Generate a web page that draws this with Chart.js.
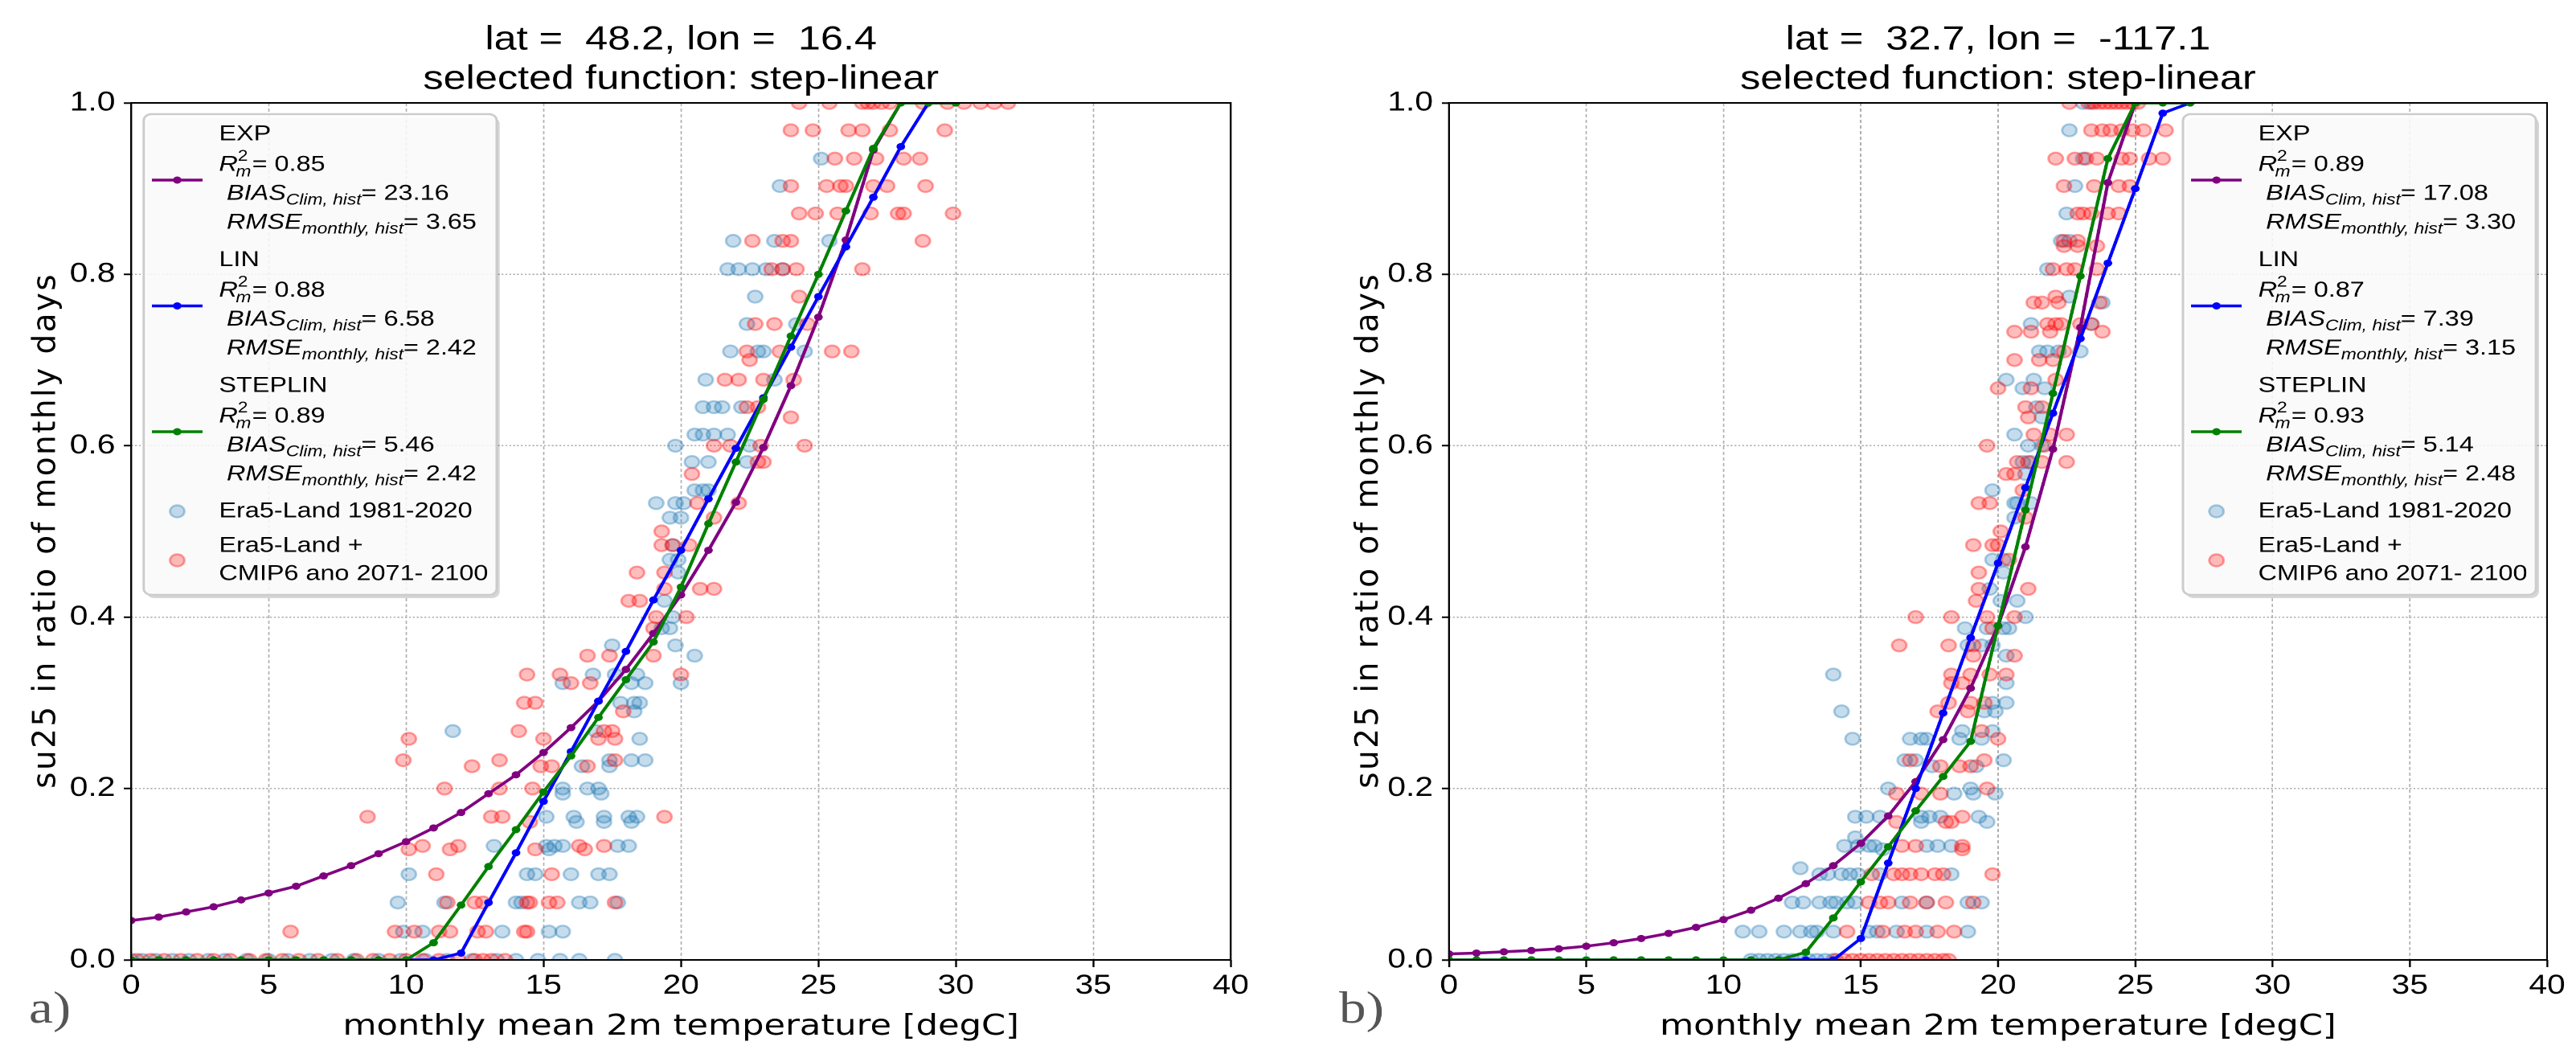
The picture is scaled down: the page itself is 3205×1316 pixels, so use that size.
<!DOCTYPE html>
<html>
<head>
<meta charset="utf-8">
<script src="https://cdn.jsdelivr.net/npm/chart.js@4/dist/chart.umd.min.js"></script>
<style>
  html, body { margin: 0; padding: 0; background: #fff; }
  body { width: 3205px; height: 1316px; position: relative; overflow: hidden; }
  .panel { position: absolute; top: 0; height: 1316px; transform: scaleX(1.2); transform-origin: 0 0; }
  .panel canvas { display: block; }
</style>
</head>
<body>
<div class="panel" style="left:0;width:1334px"><canvas id="chartA" width="1334" height="1316"></canvas></div>
<div class="panel" style="left:1600px;width:1338px"><canvas id="chartB" width="1338" height="1316"></canvas></div>

<script>
// shared texts
const xLabel = 'monthly mean 2m temperature [degC]';
const yLabel = 'su25 in ratio of monthly days';
const histLabel = 'Era5-Land 1981-2020';
const anoLabel = ['Era5-Land +', 'CMIP6 ano 2071- 2100'];
const fitNames = ['EXP', 'LIN', 'STEPLIN'];
const xTicks = [0, 5, 10, 15, 20, 25, 30, 35, 40];
const yTicks = [0.0, 0.2, 0.4, 0.6, 0.8, 1.0];

// ---- a) lat 48.2, lon 16.4
const titleA = ['lat =  48.2, lon =  16.4', 'selected function: step-linear'];
const tempA = [0, 1, 2, 3, 4, 5, 6, 7, 8, 9, 10, 11, 12, 13, 14, 15, 16, 17, 18, 19, 20, 21, 22, 23, 24, 25, 26, 27, 28, 29, 30];
const expA  = [0.046, 0.050, 0.056, 0.062, 0.070, 0.078, 0.086, 0.098, 0.110, 0.124, 0.138, 0.154, 0.172, 0.194, 0.216, 0.242, 0.271, 0.302, 0.339, 0.381, 0.426, 0.478, 0.534, 0.598, 0.670, 0.750, 0.840, 0.945, 1.0, 1.0, 1.0];
const linA  = [0, 0, 0, 0, 0, 0, 0, 0, 0, 0, 0, 0, 0.008, 0.067, 0.125, 0.185, 0.243, 0.302, 0.360, 0.420, 0.478, 0.538, 0.597, 0.656, 0.715, 0.774, 0.832, 0.890, 0.949, 1.0, 1.0];
const stepA = [0, 0, 0, 0, 0, 0, 0, 0, 0, 0, 0, 0.020, 0.064, 0.109, 0.152, 0.196, 0.238, 0.283, 0.327, 0.371, 0.435, 0.509, 0.581, 0.654, 0.728, 0.800, 0.874, 0.947, 1.0, 1.0, 1.0];
const r2A   = ['0.85', '0.88', '0.89'];
const biasA = ['23.16', '6.58', '5.46'];
const rmseA = ['3.65', '2.42', '2.42'];
// rows: [ratio, [temperatures]]
const era5A = [
  [0.935, [25.1]],
  [0.903, [23.6]],
  [0.839, [21.9, 23.4, 25.4]],
  [0.806, [21.7, 22.1, 22.6, 23.1, 23.7]],
  [0.774, [22.7]],
  [0.742, [22.4, 24.2]],
  [0.710, [21.8, 22.8, 23.0, 24.5]],
  [0.677, [20.9, 23.4]],
  [0.645, [20.8, 21.2, 21.5, 22.2]],
  [0.613, [20.5, 20.8, 21.2, 21.7]],
  [0.600, [19.8, 22.5]],
  [0.581, [20.4, 21.0, 22.4]],
  [0.548, [20.5, 20.8, 21.0]],
  [0.533, [19.1, 19.8, 20.1]],
  [0.516, [19.6, 20.0]],
  [0.484, [19.7]],
  [0.467, [19.6, 19.9]],
  [0.452, [19.9]],
  [0.419, [19.4]],
  [0.400, [19.7]],
  [0.387, [19.3, 19.6]],
  [0.367, [17.5, 19.8]],
  [0.355, [20.5]],
  [0.333, [16.8, 17.6, 18.4]],
  [0.323, [15.7, 18.2, 18.7, 20.0]],
  [0.300, [17.8, 18.3, 18.5]],
  [0.290, [18.3]],
  [0.267, [11.7, 16.9]],
  [0.258, [18.5]],
  [0.233, [17.4, 18.2, 18.7]],
  [0.226, [16.4, 17.4]],
  [0.200, [15.7, 16.6, 17.0]],
  [0.194, [15.7, 17.1]],
  [0.167, [15.1, 16.1, 17.2, 18.1, 18.4]],
  [0.161, [16.2, 17.2, 18.2]],
  [0.133, [13.2, 15.1, 15.4, 15.7, 17.7, 18.1]],
  [0.129, [15.2]],
  [0.100, [10.1, 14.4, 14.7, 16.0, 17.0, 17.4]],
  [0.067, [9.7, 11.4, 14.0, 14.2, 16.3, 16.7, 17.7]],
  [0.033, [9.9, 10.6, 13.5, 15.2, 15.7]],
  [0.000, [0.0, 0.4, 0.9, 1.5, 2.1, 2.8, 3.4, 4.2, 5.0, 5.7, 6.5, 7.3, 8.1, 9.0, 9.8, 10.7, 11.5, 12.4, 13.3, 14.0, 14.8, 15.6, 16.3, 17.6]]
];
const anoA = [
  [1.000, [24.3, 25.4, 26.6, 26.8, 27.0, 27.3, 27.6, 28.8, 29.7, 30.3, 30.9, 31.4, 31.9]],
  [0.968, [24.0, 24.8, 26.1, 26.6, 27.6, 29.6]],
  [0.935, [25.6, 26.3, 27.1, 28.1, 28.7]],
  [0.903, [24.0, 25.3, 25.8, 26.0, 27.0, 27.5, 28.9]],
  [0.871, [24.3, 24.9, 25.7, 26.9, 27.9, 28.1, 29.9]],
  [0.839, [22.6, 23.7, 24.0, 28.8]],
  [0.806, [23.3, 23.7, 24.2, 26.6]],
  [0.774, [24.3]],
  [0.742, [22.7, 23.4, 24.6]],
  [0.710, [22.4, 23.6, 25.5, 26.2]],
  [0.700, [22.5]],
  [0.677, [21.6, 22.1, 23.0, 24.1]],
  [0.645, [22.4, 22.8]],
  [0.633, [24.0]],
  [0.600, [21.2, 21.8, 22.9, 24.5]],
  [0.581, [22.8, 23.0]],
  [0.567, [20.4]],
  [0.533, [20.6, 22.1]],
  [0.516, [21.2]],
  [0.500, [19.3]],
  [0.484, [19.3, 19.7, 20.3]],
  [0.452, [18.4, 19.4]],
  [0.433, [19.4, 20.7, 21.2]],
  [0.419, [18.1, 18.5]],
  [0.400, [19.1, 20.2]],
  [0.387, [19.0]],
  [0.355, [16.6, 17.4, 19.0]],
  [0.333, [14.4, 15.6, 20.0]],
  [0.323, [16.0, 16.7]],
  [0.300, [14.3, 14.7]],
  [0.290, [17.9]],
  [0.267, [14.1, 17.2, 17.5]],
  [0.258, [10.1, 15.0, 17.0, 17.6]],
  [0.233, [9.9, 13.4, 17.6]],
  [0.226, [12.4, 14.9, 15.3, 16.6]],
  [0.200, [11.4, 13.4, 14.6]],
  [0.167, [8.6, 13.1, 13.5, 19.4]],
  [0.161, [14.5]],
  [0.133, [10.6, 11.9, 16.3, 17.2]],
  [0.129, [10.1, 11.6, 14.7, 16.5]],
  [0.100, [11.1, 15.3]],
  [0.067, [11.5, 12.5, 12.8, 14.4, 14.5, 15.2, 15.5, 17.6]],
  [0.033, [5.8, 9.6, 10.3, 11.2, 11.6, 12.6, 12.9, 14.3, 14.4]],
  [0.000, [0.2, 0.7, 1.2, 1.8, 2.4, 3.0, 3.6, 4.3, 4.9, 5.5, 6.1, 6.8, 7.5, 8.2, 8.8, 9.4, 10.0, 10.6, 11.2, 11.9, 12.5, 12.8, 13.1, 13.6]]
];

// ---- b) lat 32.7, lon -117.1
const titleB = ['lat =  32.7, lon =  -117.1', 'selected function: step-linear'];
const tempB = [0, 1, 2, 3, 4, 5, 6, 7, 8, 9, 10, 11, 12, 13, 14, 15, 16, 17, 18, 19, 20, 21, 22, 23, 24, 25, 26, 27];
const expB  = [0.007, 0.008, 0.0095, 0.011, 0.013, 0.016, 0.020, 0.025, 0.031, 0.038, 0.047, 0.058, 0.072, 0.089, 0.110, 0.136, 0.168, 0.208, 0.257, 0.317, 0.390, 0.482, 0.596, 0.738, 0.907, 1.0, 1.0, 1.0];
const linB  = [0, 0, 0, 0, 0, 0, 0, 0, 0, 0, 0, 0, 0, 0, 0, 0.025, 0.113, 0.200, 0.288, 0.376, 0.463, 0.551, 0.638, 0.725, 0.813, 0.900, 0.988, 1.0];
const stepB = [0, 0, 0, 0, 0, 0, 0, 0, 0, 0, 0, 0, 0, 0.009, 0.049, 0.091, 0.132, 0.174, 0.214, 0.255, 0.390, 0.525, 0.661, 0.798, 0.935, 1.0, 1.0, 1.0];
const r2B   = ['0.89', '0.87', '0.93'];
const biasB = ['17.08', '7.39', '5.14'];
const rmseB = ['3.30', '3.15', '2.48'];
const era5B = [
  [1.000, [23.1, 23.4]],
  [0.968, [22.6]],
  [0.935, [23.1]],
  [0.903, [22.8]],
  [0.871, [22.5]],
  [0.839, [22.3, 22.6]],
  [0.806, [21.8]],
  [0.774, [22.6]],
  [0.767, [23.8]],
  [0.742, [21.2, 23.4]],
  [0.710, [21.5, 21.8, 22.2, 23.0]],
  [0.677, [20.3, 21.3]],
  [0.667, [20.9, 21.7]],
  [0.645, [21.4]],
  [0.633, [21.6]],
  [0.613, [20.6]],
  [0.600, [21.1, 21.6]],
  [0.581, [20.9, 21.2]],
  [0.567, [21.0]],
  [0.548, [19.8]],
  [0.533, [20.6, 20.7, 21.2]],
  [0.516, [20.6]],
  [0.467, [19.8, 20.2]],
  [0.452, [20.2]],
  [0.433, [19.7]],
  [0.419, [20.1, 20.7]],
  [0.400, [21.0]],
  [0.387, [18.8, 19.6, 20.2, 20.4]],
  [0.367, [18.9, 19.4, 19.8]],
  [0.355, [20.3]],
  [0.333, [14.0]],
  [0.323, [20.3]],
  [0.300, [19.8, 20.3]],
  [0.290, [14.3, 19.5, 19.9]],
  [0.267, [18.7, 19.8]],
  [0.258, [14.7, 16.8, 17.2, 17.4, 18.6, 19.4]],
  [0.233, [16.6, 17.0, 20.2]],
  [0.226, [17.6, 19.2]],
  [0.200, [16.0, 19.0]],
  [0.194, [18.4, 19.1, 19.9]],
  [0.167, [14.8, 15.2, 15.7, 17.2, 17.5, 17.9, 19.3]],
  [0.161, [17.2, 19.6]],
  [0.143, [14.8]],
  [0.133, [14.4, 14.9, 15.3, 15.5, 17.4, 17.8, 18.3]],
  [0.129, [15.8]],
  [0.107, [12.8]],
  [0.100, [13.5, 13.8, 14.3, 14.6, 14.9, 15.7, 18.3]],
  [0.067, [12.5, 12.9, 13.5, 13.9, 14.1, 14.5, 14.8, 16.5, 17.4, 18.9, 19.4]],
  [0.033, [10.7, 11.3, 12.2, 12.8, 13.2, 13.4, 14.0, 15.3, 15.6, 16.3, 17.4, 18.9]],
  [0.000, [11.0, 11.3, 11.6, 11.9, 12.2, 12.5, 12.8, 13.1, 13.4, 13.7, 14.0]]
];
const anoB = [
  [1.000, [22.6, 23.3, 23.5, 23.7, 23.9, 24.1, 24.3, 24.5, 24.7, 24.9, 25.1]],
  [0.968, [23.4, 23.8, 24.1, 24.5, 24.9, 25.3, 26.1]],
  [0.935, [22.1, 22.8, 23.2, 23.6, 24.5, 24.8, 25.5, 26.0]],
  [0.903, [22.4, 23.5, 24.4, 24.8]],
  [0.871, [22.9, 23.1, 23.4, 24.0, 24.4]],
  [0.839, [22.4, 22.9]],
  [0.833, [22.4, 22.9, 23.6]],
  [0.806, [22.0, 22.5, 22.8, 23.6]],
  [0.774, [22.1]],
  [0.767, [21.3, 21.6, 22.2, 23.7]],
  [0.742, [21.8, 22.1, 22.3, 23.0, 23.4]],
  [0.733, [20.6, 21.2, 21.9, 23.8]],
  [0.710, [22.4]],
  [0.700, [20.6, 21.5, 22.0]],
  [0.677, [22.1]],
  [0.667, [20.0, 21.2]],
  [0.645, [21.0, 21.6]],
  [0.633, [21.1]],
  [0.613, [21.3, 21.9, 22.5]],
  [0.600, [19.6, 21.7]],
  [0.581, [20.7, 21.1, 21.6, 22.5]],
  [0.567, [20.3, 20.6]],
  [0.548, [20.9]],
  [0.533, [19.3, 19.7]],
  [0.516, [21.0]],
  [0.500, [20.1]],
  [0.484, [19.1, 19.8, 20.0]],
  [0.467, [20.4]],
  [0.452, [19.3]],
  [0.433, [19.3, 21.1]],
  [0.419, [19.2]],
  [0.400, [17.0, 18.3, 19.6, 20.6]],
  [0.387, [19.8]],
  [0.367, [16.4, 18.2, 19.1]],
  [0.355, [19.1, 20.6]],
  [0.333, [18.3, 19.0, 19.7, 20.3]],
  [0.323, [18.3, 18.7]],
  [0.300, [18.2, 19.0, 19.5]],
  [0.290, [17.8, 18.9]],
  [0.267, [19.4]],
  [0.258, [20.0]],
  [0.233, [16.8, 19.5]],
  [0.226, [17.9, 18.6, 19.0]],
  [0.200, [19.6]],
  [0.194, [16.3, 17.2, 17.9]],
  [0.167, [18.7]],
  [0.161, [16.3, 18.1, 18.3]],
  [0.133, [16.5, 17.0, 18.7]],
  [0.129, [18.7]],
  [0.100, [15.4, 16.2, 16.5, 16.8, 17.2, 17.7, 18.0, 19.8]],
  [0.067, [15.3, 15.7, 16.0, 16.8, 17.4, 18.1, 19.1]],
  [0.033, [14.5, 15.8, 16.6, 17.0, 17.8, 18.4]],
  [0.000, [14.1, 14.4, 14.7, 15.0, 15.3, 15.6, 15.9, 16.2, 16.5, 16.8, 17.1, 17.4, 17.7, 18.0, 18.2]]
];

const fitColors = ['#800080', '#0000ff', '#008000'];
const HIST_RGB = '31,119,180';
const ANO_RGB = '255,0,0';
const LEG_FONT = '"Liberation Sans"';
const STRETCH = 1.2;   // panels are widened by CSS scaleX

Chart.defaults.font.family = 'Liberation Sans';

function lineSet(label, xs, ys, color) {
  return {
    label: label,
    data: xs.map((x, i) => ({ x: x, y: ys[i] })),
    showLine: true,
    borderColor: color,
    backgroundColor: color,
    borderWidth: 3.5,
    pointRadius: 4.5,
    pointHoverRadius: 4.5,
    pointBackgroundColor: color,
    pointBorderColor: color,
    pointBorderWidth: 0,
    tension: 0,
    clip: 0
  };
}

function dotSet(label, rows, rgb) {
  return {
    label: label,
    data: rows.flatMap(([y, xs]) => xs.map(x => ({ x: x, y: y }))),
    showLine: false,
    pointRadius: 7.5,
    pointHoverRadius: 7.5,
    pointBackgroundColor: 'rgba(' + rgb + ',0.26)',
    pointBorderColor: 'rgba(' + rgb + ',0.36)',
    pointBorderWidth: 2.4,
    clip: 0
  };
}

function roundRect(ctx, x, y, w, h, r) {
  ctx.beginPath();
  ctx.moveTo(x + r, y);
  ctx.arcTo(x + w, y, x + w, y + h, r);
  ctx.arcTo(x + w, y + h, x, y + h, r);
  ctx.arcTo(x, y + h, x, y, r);
  ctx.arcTo(x, y, x + w, y, r);
  ctx.closePath();
}

// text with extra space between letters, centred on cx
function spacedText(ctx, text, cx, cy, spacing) {
  const chars = Array.from(text);
  const widths = chars.map(ch => ctx.measureText(ch).width);
  const total = widths.reduce((s, w) => s + w, 0) + spacing * (chars.length - 1);
  let x = cx - total / 2;
  ctx.textAlign = 'left';
  chars.forEach((ch, i) => { ctx.fillText(ch, x, cy); x += widths[i] + spacing; });
}

// "R" + sup 2 + sub m, then "= value"
function drawR2(ctx, x, y, val) {
  ctx.font = 'italic 27px ' + LEG_FONT;
  ctx.fillText('R', x, y);
  let w = ctx.measureText('R').width;
  ctx.font = '19px ' + LEG_FONT;
  ctx.fillText('2', x + w, y - 10);
  const w2 = ctx.measureText('2').width;
  ctx.font = 'italic 19px ' + LEG_FONT;
  ctx.fillText('m', x + w - 2, y + 9);
  const wm = ctx.measureText('m').width - 2;
  w += Math.max(w2, wm) + 1;
  ctx.font = '27px ' + LEG_FONT;
  ctx.fillText('= ' + val, x + w, y);
}

function drawStat(ctx, x, y, main, sub, val) {
  ctx.font = 'italic 27px ' + LEG_FONT;
  ctx.fillText(main, x, y);
  let w = ctx.measureText(main).width;
  ctx.font = 'italic 19px ' + LEG_FONT;
  ctx.fillText(sub, x + w, y + 8);
  w += ctx.measureText(sub).width;
  ctx.font = '27px ' + LEG_FONT;
  ctx.fillText('= ' + val, x + w, y);
}

function drawLegend(ctx, p) {
  const bx = p.legX, by = 142, bw = 366, bh = 598;
  ctx.save();
  ctx.fillStyle = 'rgba(0,0,0,0.16)';
  roundRect(ctx, bx + 3, by + 4, bw, bh, 8);
  ctx.fill();
  ctx.fillStyle = 'rgba(255,255,255,0.86)';
  roundRect(ctx, bx, by, bw, bh, 8);
  ctx.fill();
  ctx.strokeStyle = '#cccccc';
  ctx.lineWidth = 2.5;
  ctx.stroke();

  const tx = bx + 78, lx0 = bx + 8.5, lx1 = bx + 61, mx = (lx0 + lx1) / 2;
  const blockY = [167, 323.5, 480];
  ctx.textAlign = 'left';
  ctx.textBaseline = 'middle';
  for (let i = 0; i < 3; i++) {
    const y0 = blockY[i];
    const ly = y0 + 57;
    ctx.strokeStyle = fitColors[i];
    ctx.lineWidth = 3.5;
    ctx.beginPath(); ctx.moveTo(lx0, ly); ctx.lineTo(lx1, ly); ctx.stroke();
    ctx.fillStyle = fitColors[i];
    ctx.beginPath(); ctx.arc(mx, ly, 4.5, 0, Math.PI * 2); ctx.fill();

    ctx.fillStyle = '#000';
    ctx.font = '27px ' + LEG_FONT;
    ctx.fillText(fitNames[i], tx, y0);
    drawR2(ctx, tx, y0 + 38, p.r2[i]);
    drawStat(ctx, tx + 8, y0 + 74, 'BIAS', 'Clim, hist', p.bias[i]);
    drawStat(ctx, tx + 8, y0 + 110, 'RMSE', 'monthly, hist', p.rmse[i]);
  }
  // scatter entries
  const dot = (y, rgb) => {
    ctx.beginPath(); ctx.arc(mx, y, 7.5, 0, Math.PI * 2);
    ctx.fillStyle = 'rgba(' + rgb + ',0.26)'; ctx.fill();
    ctx.strokeStyle = 'rgba(' + rgb + ',0.36)'; ctx.lineWidth = 2.4; ctx.stroke();
  };
  dot(636, HIST_RGB);
  dot(697, ANO_RGB);
  ctx.fillStyle = '#000';
  ctx.font = '27px ' + LEG_FONT;
  ctx.fillText(histLabel, tx, 636);
  ctx.fillText(anoLabel[0], tx, 679);
  ctx.fillText(anoLabel[1], tx, 714);
  ctx.restore();
}

function panelPlugin(p) {
  return {
    id: 'panelDecor',
    afterDatasetsDraw(chart) {
      const { ctx, chartArea: a } = chart;
      ctx.save();
      ctx.strokeStyle = '#000';
      ctx.lineWidth = 2;
      ctx.strokeRect(a.left, a.top, a.right - a.left, a.bottom - a.top);
      ctx.restore();
    },
    afterDraw(chart) {
      const { ctx, chartArea: a } = chart;
      ctx.save();
      ctx.fillStyle = '#000';
      ctx.textAlign = 'center';
      ctx.textBaseline = 'middle';
      ctx.font = '42px ' + LEG_FONT;
      const cx = (a.left + a.right) / 2;
      ctx.fillText(p.title[0], cx, 50);
      ctx.fillText(p.title[1], cx, 99);

      // y label is drawn unstretched
      ctx.save();
      ctx.scale(1 / STRETCH, 1);
      ctx.translate(p.yLabelX, (a.top + a.bottom) / 2);
      ctx.rotate(-Math.PI / 2);
      ctx.font = '39px "DejaVu Sans"';
      spacedText(ctx, yLabel, 0, 0, 2.4);
      ctx.restore();

      ctx.font = '56px "Liberation Serif"';
      ctx.fillStyle = '#555555';
      ctx.textAlign = 'left';
      ctx.textBaseline = 'alphabetic';
      ctx.fillText(p.letter, p.letterX, 1272);

      drawLegend(ctx, p);
      ctx.restore();
    }
  };
}

function makeChart(id, p) {
  const tickFont = { family: 'Liberation Sans', size: 34 };
  const gridX = { color: '#b0b0b0', lineWidth: 1.5, tickLength: 9, tickColor: '#000', tickWidth: 2, tickBorderDash: [] };
  const gridY = { color: '#b0b0b0', lineWidth: 1.5, tickLength: 7.5, tickColor: '#000', tickWidth: 2, tickBorderDash: [] };
  return new Chart(document.getElementById(id), {
    type: 'scatter',
    data: {
      datasets: [
        lineSet(fitNames[2], p.temp, p.step, fitColors[2]),
        lineSet(fitNames[1], p.temp, p.lin, fitColors[1]),
        lineSet(fitNames[0], p.temp, p.exp, fitColors[0]),
        dotSet(anoLabel.join(' '), p.ano, ANO_RGB),
        dotSet(histLabel, p.hist, HIST_RGB)
      ]
    },
    options: {
      responsive: false,
      animation: false,
      devicePixelRatio: 2,
      events: [],
      layout: { padding: { top: 128, right: p.padRight, left: 0, bottom: 0 } },
      plugins: { legend: { display: false }, tooltip: { enabled: false } },
      scales: {
        x: {
          type: 'linear', min: xTicks[0], max: xTicks[xTicks.length - 1],
          afterBuildTicks: s => { s.ticks = xTicks.map(v => ({ value: v })); },
          ticks: { color: '#000', font: tickFont, padding: 3, maxRotation: 0, autoSkip: false },
          grid: gridX,
          border: { display: false, dash: [4, 3] },
          title: { display: true, text: xLabel, color: '#000', font: { family: 'DejaVu Sans', size: 36 }, padding: { top: 0, bottom: 17 } },
          afterFit: s => { s.height = 122; }
        },
        y: {
          type: 'linear', min: yTicks[0], max: yTicks[yTicks.length - 1],
          afterBuildTicks: s => { s.ticks = yTicks.map(v => ({ value: v })); },
          ticks: { color: '#000', font: tickFont, padding: 9, callback: v => Number(v).toFixed(1) },
          grid: gridY,
          border: { display: false, dash: [2, 2] },
          afterFit: s => { s.width = p.yWidth; }
        }
      }
    },
    plugins: [panelPlugin(p)]
  });
}

makeChart('chartA', {
  title: titleA, temp: tempA, exp: expA, lin: linA, step: stepA,
  hist: era5A, ano: anoA, r2: r2A, bias: biasA, rmse: rmseA,
  yWidth: 136, padRight: 58, legX: 149, yLabelX: 58.5, letter: 'a)', letterX: 30
});
makeChart('chartB', {
  title: titleB, temp: tempB, exp: expB, lin: linB, step: stepB,
  hist: era5B, ano: anoB, r2: r2B, bias: biasB, rmse: rmseB,
  yWidth: 169, padRight: 30.5, legX: 930, yLabelX: 104, letter: 'b)', letterX: 55
});
</script>
</body>
</html>
